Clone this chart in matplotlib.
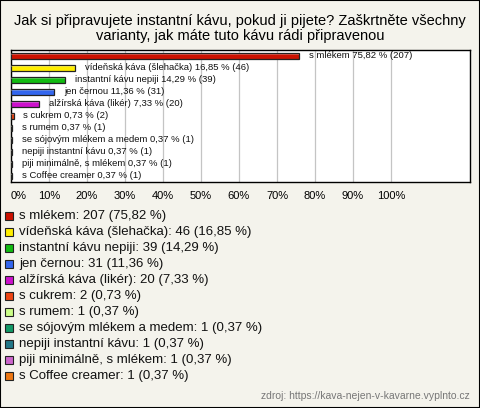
import matplotlib.pyplot as plt
from matplotlib.patches import Rectangle

# data
categories = ["s mlékem", "vídeňská káva (šlehačka)", "instantní kávu nepiji",
              "jen černou", "alžírská káva (likér)", "s cukrem", "s rumem",
              "se sójovým mlékem a medem", "nepiji instantní kávu",
              "piji minimálně, s mlékem", "s Coffee creamer"]
counts = [207, 46, 39, 31, 20, 2, 1, 1, 1, 1, 1]
percents = [75.82, 16.85, 14.29, 11.36, 7.33, 0.73, 0.37, 0.37, 0.37, 0.37, 0.37]
colors = ["#cc1100", "#ffee00", "#11bb11", "#3366ee", "#cc11cc", "#ee4411",
          "#ccff88", "#119966", "#227788", "#cc66cc", "#ee7711"]
tick_values = list(range(0, 101, 10))

W, H = 480, 408
bg = "#f4f3ec"
plt.rcParams['font.family'] = ['Liberation Sans', 'DejaVu Sans']

fig = plt.figure(figsize=(W / 100, H / 100), dpi=100, facecolor=bg)
fig.add_artist(Rectangle((0, 0), 1, 1, transform=fig.transFigure, fill=False,
                         edgecolor="black", linewidth=1.5))


def fx(px):
    return px / W


def fy(py):
    return 1 - py / H


def cz(v):
    return f"{v:.2f}".replace(".", ",")


# title
fig.text(0.5, fy(21), "Jak si připravujete instantní kávu, pokud ji pijete? Zaškrtněte všechny",
         ha="center", va="center", fontsize=10.5)
fig.text(0.5, fy(36), "varianty, jak máte tuto kávu rádi připravenou",
         ha="center", va="center", fontsize=10.5)

# plot area
ax = fig.add_axes([fx(11), fy(182), fx(459), 132 / H])
ax.set_facecolor("white")
n = len(categories)
ys = list(range(n))
ax.barh(ys, percents, height=0.5, color=colors, edgecolor="#222222", linewidth=0.9, zorder=3)
# thin highlight strip to mimic the 3D look
ax.barh([y - 0.12 for y in ys], percents, height=0.12, color="white", alpha=0.25,
        linewidth=0, zorder=4)
for y, cat, p, c in zip(ys, categories, percents, counts):
    ax.annotate(f"{cat} {cz(p)} % ({c})", xy=(p, y), xytext=(7, 0),
                textcoords="offset points", ha="left", va="center", fontsize=6.8,
                color="#111111", zorder=5)

ax.set_xlim(0, 120.8)
ax.set_ylim(n - 0.5, -0.5)
ax.set_yticks([])
ax.set_xticks(tick_values)
ax.set_xticklabels([f"{t}%" for t in tick_values], fontsize=8)
ax.tick_params(axis="x", length=0, pad=6.5)
ax.get_xticklabels()[0].set_horizontalalignment("left")
ax.grid(axis="x", color="#c4c4c4", linewidth=0.9, zorder=0)
for s in ax.spines.values():
    s.set_color("black")
    s.set_linewidth(1.0)

# legend
for i, (cat, c, p, col) in enumerate(zip(categories, counts, percents, colors)):
    yy = 216 + i * 16
    fig.add_artist(Rectangle((fx(5), fy(yy + 4)), fx(8), 8 / H, transform=fig.transFigure,
                             facecolor=col, edgecolor="#222222", linewidth=0.8))
    fig.text(fx(19), fy(yy), f"{cat}: {c} ({cz(p)} %)", ha="left", va="center",
             fontsize=9.5, color="#111111")

fig.text(fx(470), fy(396), "zdroj: https://kava-nejen-v-kavarne.vyplnto.cz",
         ha="right", va="center", fontsize=7.5, color="#777777")

fig.savefig("out.png", dpi=100, facecolor=bg)
